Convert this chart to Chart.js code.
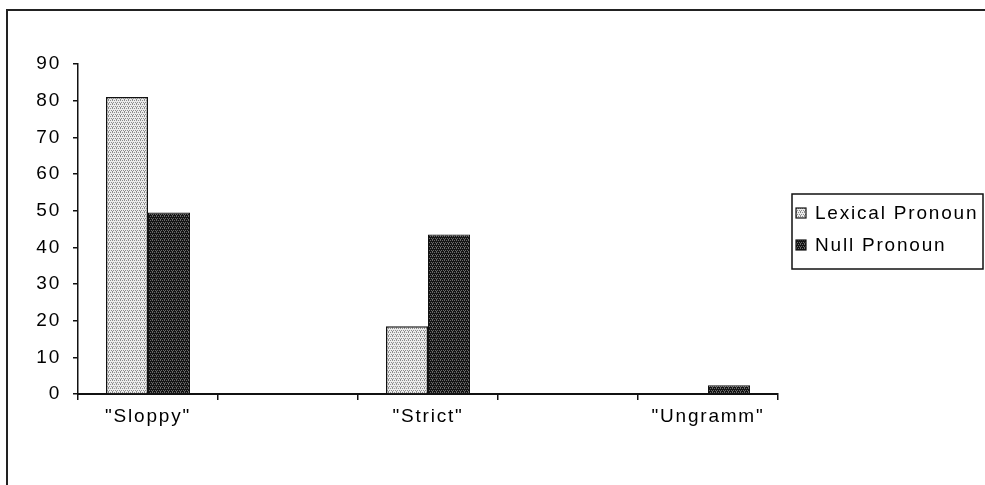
<!DOCTYPE html>
<html>
<head>
<meta charset="utf-8">
<script src="https://cdn.jsdelivr.net/npm/chart.js@4/dist/chart.umd.min.js"></script>
<style>
  html, body { margin: 0; padding: 0; background: #fff; }
  #wrap { width: 985px; height: 485px; position: relative; }
</style>
</head>
<body>
<div id="wrap"><canvas id="c" width="985" height="485"></canvas></div>
<script>
// ---- data ----
const categories = ['"Sloppy"', '', '"Strict"', '', '"Ungramm"'];
const lexicalPronoun = [81, null, 18.5, null, 0];
const nullPronoun = [49.5, null, 43.5, null, 2.4];
const seriesNames = ['Lexical Pronoun', 'Null Pronoun'];
const yTicks = [0, 10, 20, 30, 40, 50, 60, 70, 80, 90];

const FONT = 'Liberation Sans, Arial, sans-serif';

function makePattern(base, dot) {
  const p = document.createElement('canvas');
  p.width = 4; p.height = 4;
  const g = p.getContext('2d');
  g.fillStyle = base; g.fillRect(0, 0, 4, 4);
  g.fillStyle = dot;
  g.fillRect(0, 0, 1, 1);
  g.fillRect(2, 0, 1, 1);
  g.fillRect(1, 2, 1, 1);
  g.fillRect(3, 2, 1, 1);
  g.fillRect(0, 3, 1, 1);
  return document.getElementById('c').getContext('2d').createPattern(p, 'repeat');
}
const lightFill = makePattern('#ebebeb', '#8c8c8c');
const darkFill = makePattern('#141414', '#6a6a6a');

const framePlugin = {
  id: 'frame',
  beforeDraw(chart) {
    const ctx = chart.ctx;
    ctx.save();
    ctx.strokeStyle = '#222';
    ctx.lineWidth = 2;
    ctx.beginPath();
    ctx.moveTo(7, 485);
    ctx.lineTo(7, 10);
    ctx.lineTo(990, 10);
    ctx.stroke();
    ctx.restore();
  }
};

const legendPlugin = {
  id: 'boxLegend',
  afterDraw(chart) {
    const ctx = chart.ctx;
    const x0 = 792, y0 = 194, w = 191, h = 75;
    ctx.save();
    ctx.strokeStyle = '#111';
    ctx.lineWidth = 1.5;
    ctx.strokeRect(x0, y0, w, h);
    ctx.font = '19px ' + FONT;
    ctx.letterSpacing = '1.8px';
    ctx.textBaseline = 'middle';
    const rows = [213, 245];
    chart.data.datasets.forEach((ds, i) => {
      const cy = rows[i];
      ctx.fillStyle = ds.backgroundColor;
      ctx.fillRect(796, cy - 5, 10, 10);
      ctx.strokeStyle = '#111';
      ctx.lineWidth = 1.2;
      ctx.strokeRect(796, cy - 5, 10, 10);
      ctx.fillStyle = '#000';
      ctx.fillText(ds.label, 815, cy + 1);
    });
    ctx.restore();
  }
};

const spacingPlugin = {
  id: 'spacing',
  beforeDraw(chart) { chart.ctx.letterSpacing = '1.8px'; },
  afterDraw(chart) { chart.ctx.letterSpacing = '0px'; }
};

new Chart(document.getElementById('c'), {
  type: 'bar',
  data: {
    labels: categories,
    datasets: [
      { label: seriesNames[0], data: lexicalPronoun, backgroundColor: lightFill,
        borderColor: '#111', borderWidth: 1.5 },
      { label: seriesNames[1], data: nullPronoun, backgroundColor: darkFill,
        borderColor: '#111', borderWidth: 1 }
    ]
  },
  options: {
    responsive: false,
    animation: false,
    devicePixelRatio: 1,
    layout: { padding: { left: 0, top: 64, right: 207, bottom: 45 } },
    datasets: { bar: { categoryPercentage: 0.6, barPercentage: 1.0, skipNull: false } },
    plugins: {
      legend: { display: false },
      tooltip: { enabled: false },
      title: { display: false }
    },
    scales: {
      x: {
        offset: true,
        afterFit(s) { s.height = 46; },
        grid: { display: true, drawOnChartArea: false, drawTicks: true, tickLength: 6,
                color: '#111', lineWidth: 1.5, offset: true },
        border: { display: true, color: '#111', width: 2 },
        ticks: { color: '#000', font: { family: FONT, size: 19 }, padding: 5,
                 maxRotation: 0, autoSkip: false }
      },
      y: {
        min: 0, max: 90,
        afterFit(s) { s.width = 78; },
        afterBuildTicks(s) { s.ticks = yTicks.map(v => ({ value: v })); },
        grid: { display: true, drawOnChartArea: false, drawTicks: true, tickLength: 5,
                color: '#111', lineWidth: 1.5 },
        border: { display: true, color: '#111', width: 1.5 },
        ticks: { color: '#000', font: { family: FONT, size: 19 }, padding: 12 }
      }
    }
  },
  plugins: [framePlugin, spacingPlugin, legendPlugin]
});
</script>
</body>
</html>
